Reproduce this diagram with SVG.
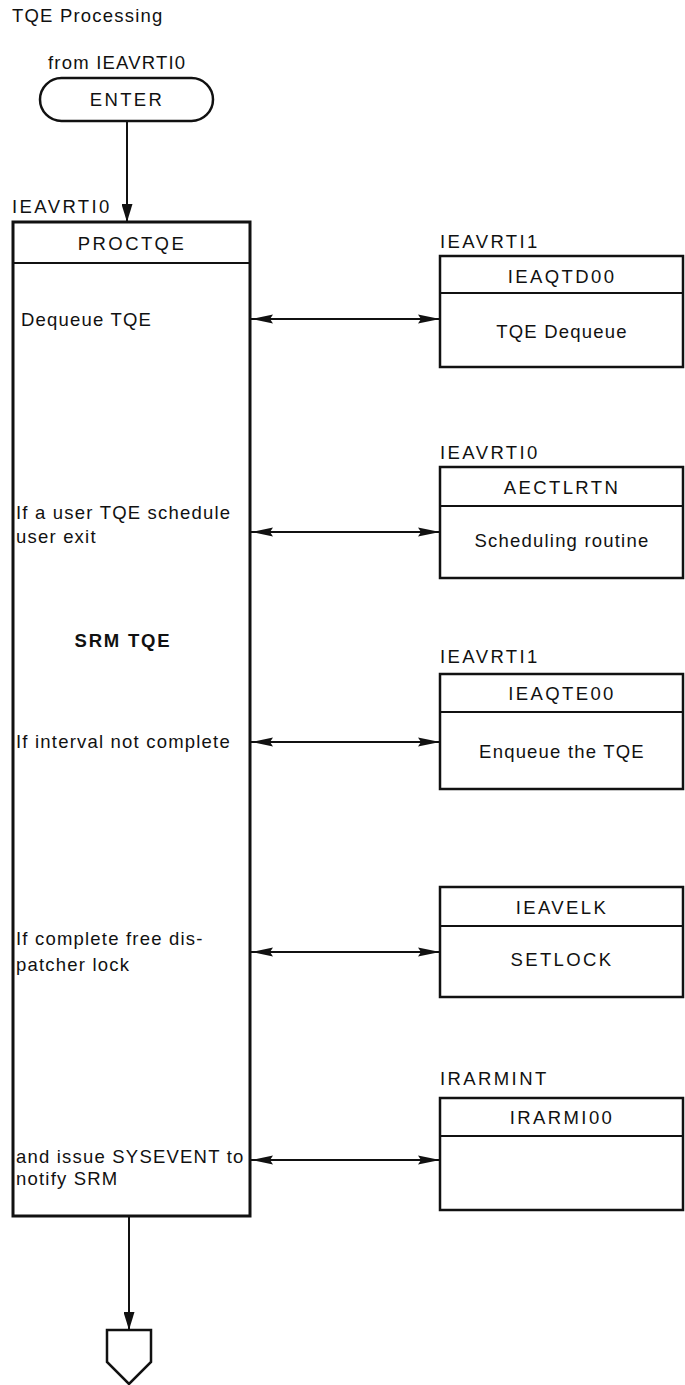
<svg xmlns="http://www.w3.org/2000/svg" width="685" height="1385" viewBox="0 0 685 1385">
  <style>
    text { font-family: "Liberation Sans", Arial, sans-serif; font-size: 18.5px; letter-spacing: 1.2px; fill: #111; }
    .caps { letter-spacing: 2.4px; }
    .mid { text-anchor: middle; }
    .bold { font-weight: bold; letter-spacing: 1.8px; }
    .box { fill: #fff; stroke: #111; stroke-width: 2.5; }
    .main { fill: #fff; stroke: #111; stroke-width: 3; }
    .rule { stroke: #111; stroke-width: 2.2; }
    .conn { fill: none; stroke: #111; stroke-width: 2; }
  </style>
  <defs>
    <marker id="head" viewBox="0 0 22 10" refX="22" refY="5" markerWidth="22" markerHeight="10" markerUnits="userSpaceOnUse" orient="auto-start-reverse">
      <path d="M0,0.6 L22,5 L0,9.4 L3,5 z" fill="#111"/>
    </marker>
    <marker id="down" viewBox="0 0 18 11" refX="18" refY="5.5" markerWidth="18" markerHeight="11" markerUnits="userSpaceOnUse" orient="auto">
      <path d="M0,0 L18,5.5 L0,11 z" fill="#111"/>
    </marker>
  </defs>

  <text x="12" y="22">TQE Processing</text>

  <!-- entry terminal -->
  <g id="enter">
    <text x="48" y="69" letter-spacing="2.2">from IEAVRTI0</text>
    <rect x="40" y="78" width="173" height="43" rx="21.5" ry="21.5" class="box"/>
    <text x="127" y="106" class="mid caps">ENTER</text>
  </g>

  <!-- main routine -->
  <g id="proctqe">
    <text x="12" y="213" class="caps">IEAVRTI0</text>
    <rect x="13" y="222" width="237" height="994" class="main"/>
    <line x1="13" y1="263" x2="250" y2="263" class="rule"/>
    <text x="132" y="250" class="mid caps">PROCTQE</text>
    <text x="21" y="326">Dequeue TQE</text>
    <text x="16" y="519">If a user TQE schedule</text>
    <text x="16" y="543">user exit</text>
    <text x="123" y="647" class="mid bold">SRM TQE</text>
    <text x="16" y="748">If interval not complete</text>
    <text x="16" y="945">If complete free dis-</text>
    <text x="16" y="971">patcher lock</text>
    <text x="16" y="1163">and issue SYSEVENT to</text>
    <text x="16" y="1185">notify SRM</text>
  </g>

  <!-- called modules -->
  <g id="ieaqtd00">
    <text x="440" y="248" class="caps">IEAVRTI1</text>
    <rect x="440" y="256" width="243" height="111" class="box"/>
    <line x1="440" y1="293" x2="683" y2="293" class="rule"/>
    <text x="562" y="283" class="mid caps">IEAQTD00</text>
    <text x="562" y="338" class="mid">TQE Dequeue</text>
  </g>

  <g id="aectlrtn">
    <text x="440" y="459" class="caps">IEAVRTI0</text>
    <rect x="440" y="467" width="243" height="111" class="box"/>
    <line x1="440" y1="506" x2="683" y2="506" class="rule"/>
    <text x="562" y="494" class="mid caps">AECTLRTN</text>
    <text x="562" y="547" class="mid">Scheduling routine</text>
  </g>

  <g id="ieaqte00">
    <text x="440" y="663" class="caps">IEAVRTI1</text>
    <rect x="440" y="674" width="243" height="115" class="box"/>
    <line x1="440" y1="712" x2="683" y2="712" class="rule"/>
    <text x="562" y="700" class="mid caps">IEAQTE00</text>
    <text x="562" y="758" class="mid">Enqueue the TQE</text>
  </g>

  <g id="ieavelk">
    <rect x="440" y="887" width="243" height="110" class="box"/>
    <line x1="440" y1="926" x2="683" y2="926" class="rule"/>
    <text x="562" y="914" class="mid caps">IEAVELK</text>
    <text x="562" y="966" class="mid caps">SETLOCK</text>
  </g>

  <g id="irarmi00">
    <text x="440" y="1085" class="caps">IRARMINT</text>
    <rect x="440" y="1098" width="243" height="112" class="box"/>
    <line x1="440" y1="1136" x2="683" y2="1136" class="rule"/>
    <text x="562" y="1124" class="mid caps">IRARMI00</text>
  </g>

  <!-- exit connector -->
  <g id="exit">
    <path d="M107,1330 L151,1330 L151,1362 L129,1384 L107,1362 z" class="box"/>
  </g>

  <!-- connectors -->
  <g id="connectors">
    <line x1="127" y1="121" x2="127" y2="222" class="conn" marker-end="url(#down)"/>
    <line x1="251" y1="319" x2="440" y2="319" class="conn" marker-start="url(#head)" marker-end="url(#head)"/>
    <line x1="251" y1="532" x2="440" y2="532" class="conn" marker-start="url(#head)" marker-end="url(#head)"/>
    <line x1="251" y1="742" x2="440" y2="742" class="conn" marker-start="url(#head)" marker-end="url(#head)"/>
    <line x1="251" y1="952" x2="440" y2="952" class="conn" marker-start="url(#head)" marker-end="url(#head)"/>
    <line x1="251" y1="1160" x2="440" y2="1160" class="conn" marker-start="url(#head)" marker-end="url(#head)"/>
    <line x1="129" y1="1216" x2="129" y2="1330" class="conn" marker-end="url(#down)"/>
  </g>
</svg>
